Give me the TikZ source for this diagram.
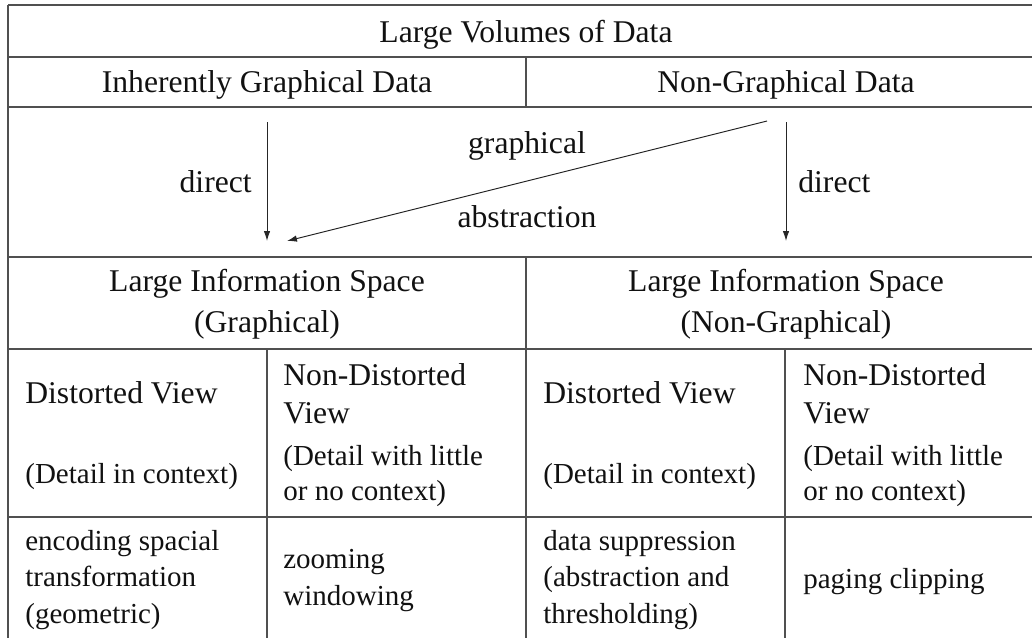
\documentclass[tikz,border=0pt]{standalone}
\usepackage{fontspec}
\setmainfont{Liberation Serif}
\usepackage{xcolor}
\usepackage{tikz}
\usetikzlibrary{positioning,arrows.meta}
\definecolor{RuleGray}{HTML}{505050}
\definecolor{TextDark}{HTML}{111111}

\begin{document}
\begin{tikzpicture}[every node/.style={font=\fontsize{18}{20.5}\selectfont, inner sep=0pt, text=TextDark},
                        small/.style={font=\fontsize{16.5}{20.5}\selectfont},
                        rule/.style={RuleGray, line width=0.8pt},
                        ar/.style={-{Latex[length=2mm,width=1.3mm]}, black!85, line width=0.55pt}]
      \useasboundingbox (0,0) rectangle (20.64,-12.76);
      % table rules
      \draw[rule] (0.16,-0.1) -- (20.64,-0.1);
      \foreach \y in {-1.14,-2.14,-5.14,-6.98,-10.34}
        \draw[rule] (0.16,\y) -- (20.64,\y);
      \draw[rule] (0.16,-0.1) -- (0.16,-12.76);
      \draw[rule] (10.52,-1.14) -- (10.52,-2.14);
      \draw[rule] (10.52,-5.14) -- (10.52,-12.76);
      \draw[rule] (5.34,-6.98) -- (5.34,-12.76);
      \draw[rule] (15.7,-6.98) -- (15.7,-12.76);
      % headers
      \node[anchor=base] (vol) at (10.52,-0.84) {Large Volumes of Data};
      \node[anchor=base] (igd) at (5.34,-1.84) {Inherently Graphical Data};
      \node[anchor=base] (ngd) at (15.72,-1.84) {Non-Graphical Data};
      % arrow row
      \coordinate (d1s) at (5.34,-2.44);  \coordinate (d1e) at (5.34,-4.82);
      \coordinate (d2s) at (15.72,-2.44); \coordinate (d2e) at (15.72,-4.82);
      \coordinate (gas) at (15.34,-2.42); \coordinate (gae) at (5.74,-4.82);
      \draw[ar] (d1s) -- (d1e);
      \draw[ar] (d2s) -- (d2e);
      \draw[ar] (gas) -- (gae);
      \node[anchor=base east] (dl) at (5.04,-3.84) {direct};
      \node[anchor=base west] (dr) at (15.96,-3.84) {direct};
      \node[anchor=base] (gr) at (10.54,-3.06) {graphical};
      \node[anchor=base] (ab) at (10.54,-4.54) {abstraction};
      % information spaces
      \node[anchor=base, align=center] (lisg) at (5.34,-6.64)
        {Large Information Space\\[2.3pt](Graphical)};
      \node[anchor=base, align=center] (lisn) at (15.72,-6.64)
        {Large Information Space\\[2.3pt](Non-Graphical)};
      % views
      \node[anchor=base west] (dv1) at (0.5,-8.06) {Distorted View};
      \node[anchor=base west, small] (dc1) at (0.5,-9.66) {(Detail in context)};
      \node[anchor=base west, align=left] (nv1) at (5.66,-8.46) {Non-Distorted\\[0.8pt]View};
      \node[anchor=base west, align=left, small] (nc1) at (5.66,-10.0) {(Detail with little\\[-0.6pt]or no context)};
      \node[anchor=base west] (dv2) at (10.86,-8.06) {Distorted View};
      \node[anchor=base west, small] (dc2) at (10.86,-9.66) {(Detail in context)};
      \node[anchor=base west, align=left] (nv2) at (16.06,-8.46) {Non-Distorted\\[0.8pt]View};
      \node[anchor=base west, align=left, small] (nc2) at (16.06,-10.0) {(Detail with little\\[-0.6pt]or no context)};
      % techniques
      \node[anchor=base west, align=left, small] (t1) at (0.5,-12.46)
        {encoding spacial\\transformation\\(geometric)};
      \node[anchor=base west, align=left, small] (t2) at (5.66,-12.1) {zooming\\windowing};
      \node[anchor=base west, align=left, small] (t3) at (10.86,-12.46)
        {data suppression\\(abstraction and\\thresholding)};
      \node[anchor=base west, small] (t4) at (16.06,-11.76) {paging clipping};
    \end{tikzpicture}
\end{document}
